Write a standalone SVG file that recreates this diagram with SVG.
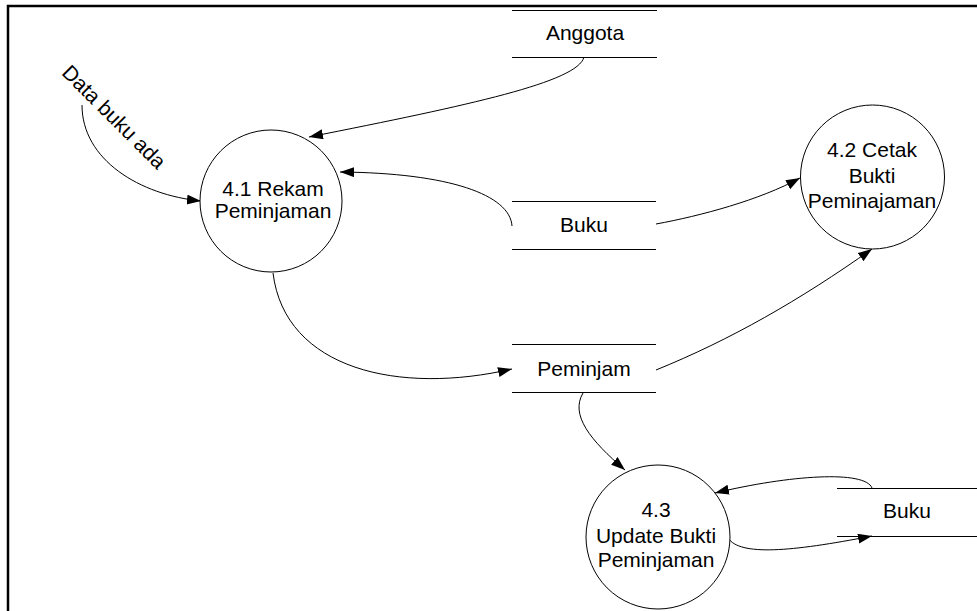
<svg xmlns="http://www.w3.org/2000/svg" width="977" height="611" viewBox="0 0 977 611">
<style>
  .bg { fill: #ffffff; }
  .frame { fill: none; stroke: #000; stroke-width: 2.5; }
  .proc { fill: #ffffff; stroke: #000; stroke-width: 1; }
  .store { stroke: #000; stroke-width: 1; }
  .flow { fill: none; stroke: #000; stroke-width: 1; marker-end: url(#arr); }
  text { font-family: "Liberation Sans", Arial, sans-serif; font-size: 21px; fill: #000; text-anchor: middle; }
</style>
<defs>
  <marker id="arr" markerUnits="userSpaceOnUse" markerWidth="15" markerHeight="11" refX="14" refY="5" orient="auto">
    <path d="M0,0 L14,5 L0,10 z" fill="#000"/>
  </marker>
</defs>
<rect class="bg" x="0" y="0" width="977" height="611"/>
<path class="frame" d="M8,611 L8,6 L977,6"/>

<g id="connectors">
  <path class="flow" d="M82,105 C82,160 140,195 201,201"/>
  <path class="flow" d="M584,57 C578,82 470,105 309,137"/>
  <path class="flow" d="M512,226 C510,195 450,173 340,172"/>
  <path class="flow" d="M656,224 C700,216 760,200 800,178"/>
  <path class="flow" d="M273,273 C285,370 400,395 512,369"/>
  <path class="flow" d="M656,370 C730,340 800,300 872,249"/>
  <path class="flow" d="M583,393 C570,415 590,440 625,470"/>
  <path class="flow" d="M872,488 C865,470 790,475 715,493"/>
  <path class="flow" d="M728,538 C740,556 790,552 872,536"/>
</g>

<g id="label-data-buku-ada">
  <text transform="translate(109,122) rotate(45)">Data buku ada</text>
</g>

<g id="p41">
  <circle class="proc" cx="271" cy="201" r="71"/>
  <text x="273" y="196">4.1 Rekam</text>
  <text x="273" y="218">Peminjaman</text>
</g>

<g id="p42">
  <circle class="proc" cx="872.5" cy="177" r="72"/>
  <text x="872" y="157">4.2 Cetak</text>
  <text x="872" y="183">Bukti</text>
  <text x="872" y="208">Peminajaman</text>
</g>

<g id="p43">
  <circle class="proc" cx="658" cy="537" r="72"/>
  <text x="656" y="517">4.3</text>
  <text x="656" y="543">Update Bukti</text>
  <text x="656" y="567">Peminjaman</text>
</g>

<g id="ds-anggota">
  <line class="store" x1="512" y1="10.5" x2="657" y2="10.5"/>
  <line class="store" x1="512" y1="57.5" x2="657" y2="57.5"/>
  <text x="585" y="40">Anggota</text>
</g>

<g id="ds-buku1">
  <line class="store" x1="512" y1="201.5" x2="656" y2="201.5"/>
  <line class="store" x1="512" y1="249.5" x2="656" y2="249.5"/>
  <text x="584" y="232">Buku</text>
</g>

<g id="ds-peminjam">
  <line class="store" x1="512" y1="344.5" x2="656" y2="344.5"/>
  <line class="store" x1="512" y1="392.5" x2="656" y2="392.5"/>
  <text x="584" y="376">Peminjam</text>
</g>

<g id="ds-buku2">
  <line class="store" x1="837" y1="488.5" x2="977" y2="488.5"/>
  <line class="store" x1="837" y1="536.5" x2="977" y2="536.5"/>
  <text x="907" y="518">Buku</text>
</g>
</svg>
